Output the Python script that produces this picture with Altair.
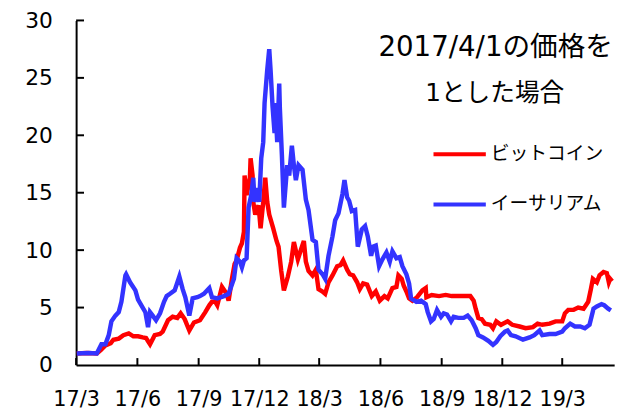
import altair as alt
import pandas as pd

# ---- data (value = price relative to 2017/4/1) ----
btc_dates = ["2017-03-02","2017-03-17","2017-04-01","2017-04-07","2017-04-14","2017-04-22","2017-04-26","2017-05-04","2017-05-11","2017-05-19","2017-05-26","2017-06-02","2017-06-09","2017-06-14","2017-06-20","2017-06-27","2017-07-05","2017-07-09","2017-07-17","2017-07-24","2017-07-31","2017-08-05","2017-08-11","2017-08-18","2017-08-25","2017-09-03","2017-09-11","2017-09-17","2017-09-21","2017-09-26","2017-09-29","2017-10-06","2017-10-13","2017-10-16","2017-10-21","2017-10-25","2017-10-28","2017-11-02","2017-11-05","2017-11-08","2017-11-09","2017-11-12","2017-11-17","2017-11-18","2017-11-21","2017-11-22","2017-11-25","2017-11-30","2017-12-03","2017-12-07","2017-12-10","2017-12-13","2017-12-16","2017-12-22","2017-12-27","2017-12-30","2018-01-03","2018-01-07","2018-01-13","2018-01-18","2018-01-22","2018-01-28","2018-02-02","2018-02-06","2018-02-09","2018-02-13","2018-02-19","2018-02-24","2018-02-28","2018-03-06","2018-03-10","2018-03-15","2018-03-21","2018-03-28","2018-04-02","2018-04-06","2018-04-12","2018-04-16","2018-04-21","2018-04-27","2018-05-01","2018-05-06","2018-05-12","2018-05-19","2018-05-25","2018-05-31","2018-06-07","2018-06-12","2018-06-19","2018-06-25","2018-06-28","2018-07-03","2018-07-06","2018-07-10","2018-07-14","2018-07-19","2018-07-26","2018-08-03","2018-08-08","2018-08-09","2018-08-17","2018-08-28","2018-09-07","2018-09-16","2018-09-26","2018-10-07","2018-10-14","2018-10-19","2018-10-22","2018-10-26","2018-10-31","2018-11-05","2018-11-13","2018-11-17","2018-11-22","2018-11-29","2018-12-09","2018-12-16","2018-12-27","2019-01-05","2019-01-16","2019-01-23","2019-01-30","2019-02-10","2019-02-19","2019-03-01","2019-03-05","2019-03-10","2019-03-18","2019-03-25","2019-04-02","2019-04-09","2019-04-13","2019-04-16","2019-04-22","2019-04-26","2019-05-02","2019-05-07","2019-05-10","2019-05-12","2019-05-15"]
btc_values = [1.0,1.05,1.0,1.3,1.7,1.9,2.2,2.3,2.6,2.75,2.5,2.5,2.4,2.35,1.8,2.6,2.7,2.9,3.9,4.2,4.1,4.5,4.0,3.0,3.7,3.9,4.6,5.2,5.5,5.5,5.2,6.8,6.2,5.6,7.5,8.8,9.1,10.2,10.6,11.6,16.5,14.8,16.3,18.0,16.5,14.2,13.1,13.9,11.9,14.2,16.3,14.2,13.1,11.9,10.8,10.3,8.2,6.5,7.7,9.0,10.7,9.2,10.1,10.8,9.0,8.2,7.8,8.3,6.6,6.4,6.2,7.2,7.8,8.6,8.7,9.1,8.3,7.9,7.8,7.2,6.6,7.1,7.0,6.0,6.4,5.6,6.0,5.8,6.7,6.8,7.8,7.5,6.9,6.4,5.8,5.6,5.9,6.5,6.7,5.9,6.1,6.0,6.1,6.0,6.0,6.0,6.0,5.6,4.9,4.1,4.0,3.6,3.5,3.2,3.8,3.5,3.8,3.5,3.35,3.2,3.3,3.6,3.5,3.6,3.8,3.8,4.5,4.8,4.8,5.0,4.9,5.5,6.6,7.5,7.2,7.8,8.1,8.0,7.2,7.5,7.3]

eth_dates = ["2017-03-02","2017-03-20","2017-04-01","2017-04-08","2017-04-14","2017-04-19","2017-04-23","2017-04-29","2017-05-04","2017-05-08","2017-05-14","2017-05-15","2017-05-21","2017-05-29","2017-06-02","2017-06-07","2017-06-13","2017-06-17","2017-06-20","2017-06-24","2017-06-29","2017-07-05","2017-07-11","2017-07-15","2017-07-20","2017-07-27","2017-08-03","2017-08-08","2017-08-12","2017-08-18","2017-08-23","2017-08-30","2017-09-03","2017-09-09","2017-09-17","2017-09-21","2017-09-29","2017-10-09","2017-10-16","2017-10-24","2017-10-28","2017-11-02","2017-11-05","2017-11-08","2017-11-12","2017-11-15","2017-11-19","2017-11-22","2017-11-24","2017-11-28","2017-12-01","2017-12-04","2017-12-07","2017-12-09","2017-12-13","2017-12-16","2017-12-18","2017-12-21","2017-12-24","2017-12-25","2017-12-28","2017-12-31","2018-01-01","2018-01-04","2018-01-07","2018-01-12","2018-01-15","2018-01-19","2018-01-22","2018-01-25","2018-01-29","2018-02-04","2018-02-09","2018-02-13","2018-02-19","2018-02-24","2018-02-28","2018-03-06","2018-03-10","2018-03-15","2018-03-21","2018-03-25","2018-03-30","2018-04-05","2018-04-08","2018-04-12","2018-04-15","2018-04-19","2018-04-24","2018-04-28","2018-05-04","2018-05-09","2018-05-13","2018-05-18","2018-05-21","2018-05-25","2018-05-30","2018-06-04","2018-06-10","2018-06-15","2018-06-19","2018-06-25","2018-06-30","2018-07-04","2018-07-10","2018-07-14","2018-07-17","2018-07-25","2018-08-01","2018-08-08","2018-08-11","2018-08-16","2018-08-20","2018-08-25","2018-08-31","2018-09-04","2018-09-09","2018-09-15","2018-09-19","2018-09-26","2018-10-04","2018-10-10","2018-10-16","2018-10-22","2018-10-26","2018-11-02","2018-11-10","2018-11-17","2018-11-22","2018-11-28","2018-12-05","2018-12-09","2018-12-14","2018-12-21","2019-01-01","2019-01-11","2019-01-18","2019-01-26","2019-01-30","2019-02-10","2019-02-19","2019-03-01","2019-03-05","2019-03-13","2019-03-20","2019-03-28","2019-04-04","2019-04-11","2019-04-17","2019-04-22","2019-04-29","2019-05-03","2019-05-09","2019-05-13"]
eth_values = [1.0,1.05,1.0,1.8,1.8,2.6,3.8,4.3,4.6,5.5,7.8,7.9,7.2,6.5,5.7,5.2,4.6,3.3,4.6,4.3,3.9,4.5,5.5,6.0,6.2,6.5,7.7,6.6,5.9,4.3,5.8,5.9,6.0,6.2,6.7,5.9,5.8,6.0,6.2,7.5,9.3,9.0,8.5,9.1,9.3,13.7,14.8,16.3,14.2,15.4,14.2,18.0,19.4,22.8,25.7,27.5,25.7,22.5,20.2,22.8,19.4,24.5,22.3,18.3,13.7,17.4,16.5,19.1,17.4,16.1,17.4,17.0,14.4,13.5,10.9,10.7,8.3,7.9,7.5,9.5,11.2,12.6,13.2,14.9,16.1,14.6,14.3,13.4,13.5,10.3,11.8,12.1,11.2,9.5,10.3,10.4,8.6,9.2,9.8,9.0,9.9,9.3,9.4,8.6,7.9,7.1,5.8,5.5,5.6,5.3,4.6,3.8,4.0,4.8,4.2,4.5,4.4,3.8,4.2,4.1,4.1,4.3,3.9,3.2,2.6,2.4,2.1,1.75,2.0,2.5,2.9,3.0,2.6,2.5,2.2,2.4,2.6,3.0,2.6,2.7,2.7,2.9,3.2,3.6,3.35,3.35,3.2,3.5,4.9,5.1,5.3,5.2,4.9,4.75]

series_names = ["ビットコイン", "イーサリアム"]
series_colors = ["#FF0000", "#3333FF"]
y_tick_values = [0, 5, 10, 15, 20, 25, 30]
x_tick_months = [(2017, 3), (2017, 6), (2017, 9), (2017, 12), (2018, 3), (2018, 6),
                 (2018, 9), (2018, 12), (2019, 3)]
note_lines = ["2017/4/1の価格を", "1とした場合"]

W, H = 545, 349
TEXT_FONT = "DejaVu Sans, Noto Sans CJK JP"

btc = pd.DataFrame({"date": pd.to_datetime(btc_dates), "value": btc_values, "series": series_names[0]})
eth = pd.DataFrame({"date": pd.to_datetime(eth_dates), "value": eth_values, "series": series_names[1]})

x_ticks_dt = [alt.DateTime(year=y, month=m, date=1) for y, m in x_tick_months]
x_scale = alt.Scale(domain=[alt.DateTime(year=2017, month=3, date=1),
                            alt.DateTime(year=2019, month=5, date=18)])
y_scale = alt.Scale(domain=[0, 30], nice=False)
color_scale = alt.Scale(domain=series_names, range=series_colors)

x_axis = alt.Axis(values=x_ticks_dt, format="%y/%-m", labelFontSize=21, labelFont="DejaVu Sans",
                  labelColor="black", ticks=False, tickSize=0, grid=False, domainColor="black",
                  domainWidth=2, labelPadding=24, title=None, labelFlush=False, labelOverlap=False)
y_axis = alt.Axis(values=y_tick_values, labelFontSize=22, labelFont="DejaVu Sans", labelColor="black",
                  ticks=False, tickSize=0, grid=False, domainColor="black", domainWidth=2,
                  labelPadding=24, title=None)

legend = alt.Legend(orient="none", legendX=360, legendY=107, symbolType="stroke", symbolSize=2809,
                    symbolStrokeWidth=4, labelFontSize=19, labelFont="Noto Sans CJK JP",
                    labelColor="black", rowPadding=12, labelOffset=3, padding=0, labelLimit=300)

def line_layer(df):
    return alt.Chart(df).mark_line(strokeWidth=4.5).encode(
        x=alt.X("date:T", scale=x_scale, axis=x_axis),
        y=alt.Y("value:Q", scale=y_scale, axis=y_axis),
        color=alt.Color("series:N", scale=color_scale, legend=legend, title=None),
    )

ytick_df = pd.DataFrame({"value": y_tick_values[1:]})
ytick_layer = alt.Chart(ytick_df).mark_rule(color="black", strokeWidth=2).encode(
    y=alt.Y("value:Q", scale=y_scale), x=alt.value(0), x2=alt.value(8))

xtick_df = pd.DataFrame({"date": pd.to_datetime([f"{y}-{m:02d}-01" for y, m in x_tick_months])})
xtick_layer = alt.Chart(xtick_df).mark_rule(color="black", strokeWidth=2).encode(
    x=alt.X("date:T", scale=x_scale), y=alt.value(H), y2=alt.value(H - 7))

note1 = alt.Chart(pd.DataFrame({"t": [note_lines[0]]})).mark_text(
    font=TEXT_FONT, fontSize=28, align="center", baseline="middle", color="black"
).encode(text="t:N", x=alt.value(425), y=alt.value(28))
note2 = alt.Chart(pd.DataFrame({"t": [note_lines[1]]})).mark_text(
    font=TEXT_FONT, fontSize=25, align="center", baseline="middle", color="black"
).encode(text="t:N", x=alt.value(424), y=alt.value(74))

chart = alt.layer(
    line_layer(btc), line_layer(eth), ytick_layer, xtick_layer, note1, note2
).properties(
    width=W, height=H,
    autosize=alt.AutoSizeParams(type="none"),
    padding={"left": 69, "top": 10, "right": 13, "bottom": 44},
).configure_view(stroke=None)

chart.save("out.html", embed_options={"renderer": "svg", "actions": False})
